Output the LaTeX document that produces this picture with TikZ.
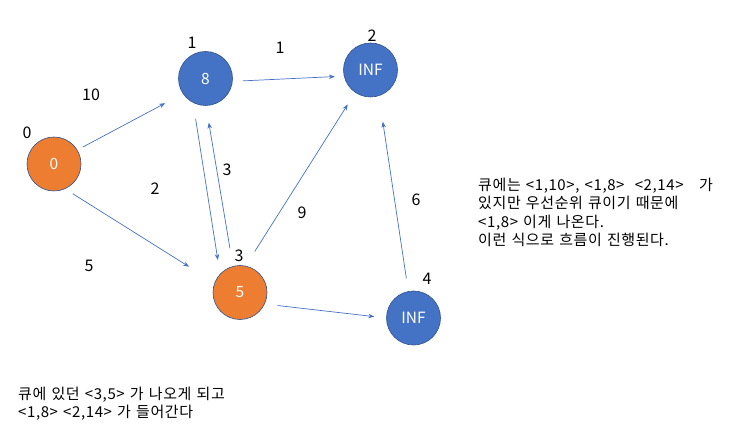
\documentclass[tikz,border=0pt]{standalone}
\usepackage{fontspec}
\setmainfont{Noto Sans CJK KR}
\newfontfamily\notefont{Noto Sans CJK KR}[LetterSpace=4, WordSpace=1.3]
\usetikzlibrary{arrows.meta}
\definecolor{qorange}{HTML}{ED7D31}
\definecolor{qblue}{HTML}{4472C4}
\definecolor{qrim}{HTML}{2F528F}

\begin{document}
\begin{tikzpicture}[x=1pt, y=-1pt, >={Stealth[length=6pt,width=4.5pt]},
    vert/.style={circle, draw=qrim, line width=0.6pt, minimum size=54pt, inner sep=0pt, text=white, font=\fontsize{15.5}{17}\selectfont},
    done/.style={vert, fill=qorange},
    todo/.style={vert, fill=qblue},
    edge/.style={->, qblue, line width=0.7pt},
    lbl/.style={font=\fontsize{16}{18}\selectfont, inner sep=0pt},
    note/.style={font=\notefont\fontsize{15}{18.5}\selectfont, align=left, anchor=west, inner sep=0pt}]
    \useasboundingbox (0,0) rectangle (746,435);

    % Vertices
    \node[done] (v0) at (54,164) {0};
    \node[todo] (v1) at (205.5,78.5) {8};
    \node[todo] (v2) at (370.5,70) {INF};
    \node[done] (v3) at (240,292.5) {5};
    \node[todo] (v4) at (413.5,318) {INF};

    % Vertex numbers
    \node[lbl] (t0) at (27,133) {0};
    \node[lbl] (t1) at (192,43) {1};
    \node[lbl] (t2) at (372,36) {2};
    \node[lbl] (t3) at (239,256) {3};
    \node[lbl] (t4) at (427,279) {4};

    % Edges
    \draw[edge, shorten <=6pt, shorten >=20pt] (v0.31) -- (v1.214);
    \draw[edge, shorten <=9pt, shorten >=30pt] (v0.294) -- (v3.159);
    \draw[edge, shorten <=10pt, shorten >=9pt] (v1.354) -- (v2.193);
    \draw[edge, shorten <=16pt, shorten >=14pt] (v1.243) -- (v3.137);
    \draw[edge, shorten <=18pt, shorten >=17pt] (v3.105) -- (v1.271);
    \draw[edge, shorten <=17pt, shorten >=14pt] (v3.78) -- (v2.236);
    \draw[edge, shorten <=13pt, shorten >=26pt] (v4.101) -- (v2.288);
    \draw[edge, shorten <=13pt, shorten >=12pt] (v3.335) -- (v4.180);

    % Weights
    \node[lbl] (w01) at (91,95) {10};
    \node[lbl] (w12) at (280,48) {1};
    \node[lbl] (w13) at (155,189) {2};
    \node[lbl] (w31) at (227,170) {3};
    \node[lbl] (w32) at (302,213) {9};
    \node[lbl] (w03) at (89,266) {5};
    \node[lbl] (w42) at (416,200) {6};

    % Notes
    \node[note] (qnote) at (478,212.5) {큐에는 <1,10>, <1,8>\ \ <2,14>\ \ \ 가\\있지만 우선순위 큐이기 때문에\\<1,8> 이게 나온다.\\이런 식으로 흐름이 진행된다.};
    \node[note] (pnote) at (18,403.5) {큐에 있던 <3,5> 가 나오게 되고\\<1,8> <2,14> 가 들어간다};
\end{tikzpicture}
\end{document}
